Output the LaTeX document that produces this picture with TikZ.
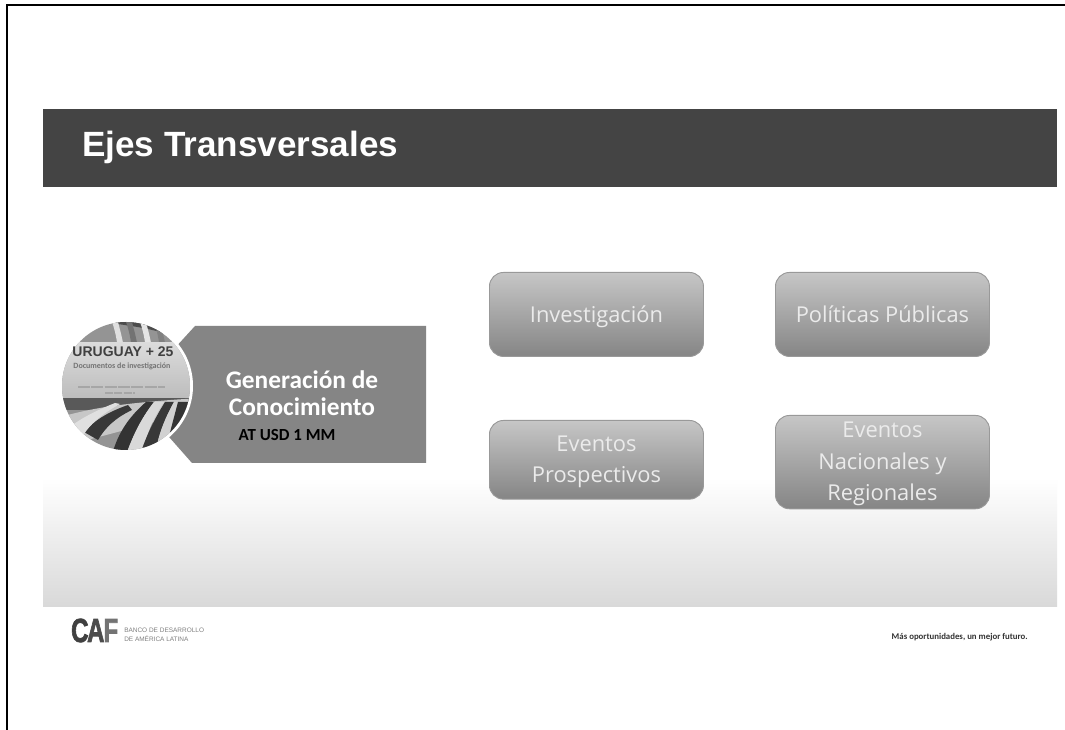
\documentclass[tikz,border=0pt]{standalone}
\usepackage{fontspec}
\setmainfont{Carlito}
\newfontfamily\arialf{Liberation Sans}
\newfontfamily\openf{Open Sans}
\newfontfamily\caff[BoldFeatures={FakeBold=2.5}]{Liberation Sans}
\usetikzlibrary{shadings}
\definecolor{hdr}{HTML}{444444}
\definecolor{boxtop}{HTML}{C6C6C6}
\definecolor{boxbot}{HTML}{858585}
\definecolor{pent}{HTML}{858585}
\tikzset{
  px/.style={x=0.75pt,y=-0.75pt},
  topic/.style={rounded corners=10.5pt,draw=black!40,line width=0.7pt,top color=boxtop,bottom color=boxbot,
    inner sep=0pt,anchor=north west,minimum width=160.5pt},
  topiclabel/.style={text=white!92!black,align=center,font=\openf\fontsize{16.4}{23.5}\selectfont,inner sep=0pt,yshift=-1.5pt},
}
\begin{document}
\begin{tikzpicture}[px]
\useasboundingbox (0,0) rectangle (1065,730);
\fill[white] (0,0) rectangle (1065,730);
% frame
\draw[black,line width=1.5pt] (6.5,730) -- (6.5,5.5) -- (1065,5.5);
% bands
\fill[hdr] (43,109) rectangle (1057,187);
\shade[top color=white,bottom color=black!15] (43,478) rectangle (1057,607);
\node[anchor=west,text=white,inner sep=0pt,font=\arialf\bfseries\fontsize{26.3}{30}\selectfont] (title) at (82,147.5) {Ejes Transversales};
% pentagon
\fill[pent] (195,326) -- (426,326) -- (426,463) -- (192,463) -- (132,395) -- cycle;
\node[text=white,align=center,inner sep=0pt,font=\bfseries\fontsize{19}{20.2}\selectfont] (gen) at (302,393) {Generación de\\Conocimiento};
\node[text=black,inner sep=0pt,font=\bfseries\fontsize{12.7}{14}\selectfont] (usd) at (287,435) {AT USD 1 MM};
% circle
\fill[white] (126,386) circle (67);
\begin{scope}
\clip (126,386) circle (64);
\fill[black!42] (50,310) rectangle (200,460);
\fill[black!70] (95,320) .. controls (115,325) and (140,325) .. (170,335) -- (165,320) -- cycle;
\foreach \x/\c in {118/black!12,132/black!55,146/black!10,160/black!50,174/black!18}{
  \fill[\c] (\x,322) .. controls (\x+2,330) and (\x+5,340) .. (\x+6,350) -- (\x,350) .. controls (\x-1,340) and (\x-3,330) .. (\x-6,322) -- cycle;}
\shade[top color=black!14,bottom color=black!26] (50,343) rectangle (200,398);
\fill[black!65] (50,398) rectangle (200,410);
\fill[black!22] (50,420) .. controls (90,408) and (120,403) .. (200,398) -- (200,410) -- (50,450) -- cycle;
\fill[black!78] (84,432) .. controls (95,420) and (108,412) .. (128,405) -- (132,410) .. controls (115,418) and (105,428) .. (98,440) -- cycle;
\fill[black!12] (55,440) .. controls (70,425) and (85,415) .. (115,403) -- (120,404) .. controls (100,415) and (90,425) .. (84,434) -- (80,460) -- cycle;
\fill[black!80] (112,455) .. controls (118,432) and (130,416) .. (146,402) -- (154,402) .. controls (140,420) and (132,438) .. (126,455) -- cycle;
\fill[black!15] (126,455) .. controls (132,438) and (140,420) .. (154,402) -- (164,402) .. controls (152,420) and (146,436) .. (142,455) -- cycle;
\fill[black!78] (140,455) .. controls (146,436) and (155,418) .. (165,402) -- (174,402) .. controls (164,420) and (158,436) .. (155,455) -- cycle;
\fill[black!18] (155,455) .. controls (158,436) and (164,420) .. (174,402) -- (180,402) -- (172,455) -- cycle;
\fill[black!80] (168,440) -- (178,402) -- (195,402) -- (195,440) -- cycle;
\end{scope}
\node[text=black!75,inner sep=0pt,font=\arialf\bfseries\fontsize{10.5}{12}\selectfont] (uru) at (123,352) {URUGUAY + 25};
\node[text=black!55,inner sep=0pt,font=\bfseries\fontsize{6}{7}\selectfont] (doc) at (122,366) {Documentos de investigación};
\draw[black!35,line width=1pt,dash pattern=on 9pt off 1pt] (78,387) -- (165,387);
\draw[black!35,line width=0.8pt,dash pattern=on 6pt off 1pt] (105,393) -- (135,393);
% boxes
\node[topic,minimum height=63pt] (inv) at (489,272) {};
\node[topic,minimum height=63pt] (pol) at (775,272) {};
\node[topic,minimum height=59pt] (eve) at (489,420) {};
\node[topic,minimum height=70pt] (nac) at (775,415) {};
\node[topiclabel] (invt) at (inv) {\strut Investigación};
\node[topiclabel] (polt) at (pol) {\strut Políticas Públicas};
\node[topiclabel] (evet) at (eve) {Eventos\\Prospectivos};
\node[topiclabel] (nact) at (nac) {Eventos\\Nacionales y\\Regionales};
% footer
\node[anchor=west,inner sep=0pt,xscale=0.72,font=\caff\bfseries\fontsize{25}{25}\selectfont] (caf) at (71,630.5) {\textcolor{black!75}{C}\kern-1.5pt\textcolor{black!70}{A}\kern-1pt\textcolor{black!55}{F}};
\node[anchor=west,text=black!50,align=left,inner sep=0pt,font=\arialf\fontsize{4.85}{7}\selectfont] (banco) at (124,634.5) {BANCO DE DESARROLLO\\DE AMÉRICA LATINA};
\node[anchor=east,text=black!80,inner sep=0pt,font=\bfseries\fontsize{6.6}{8}\selectfont] (mas) at (1028,637) {Más oportunidades, un mejor futuro.};
\end{tikzpicture}
\end{document}
